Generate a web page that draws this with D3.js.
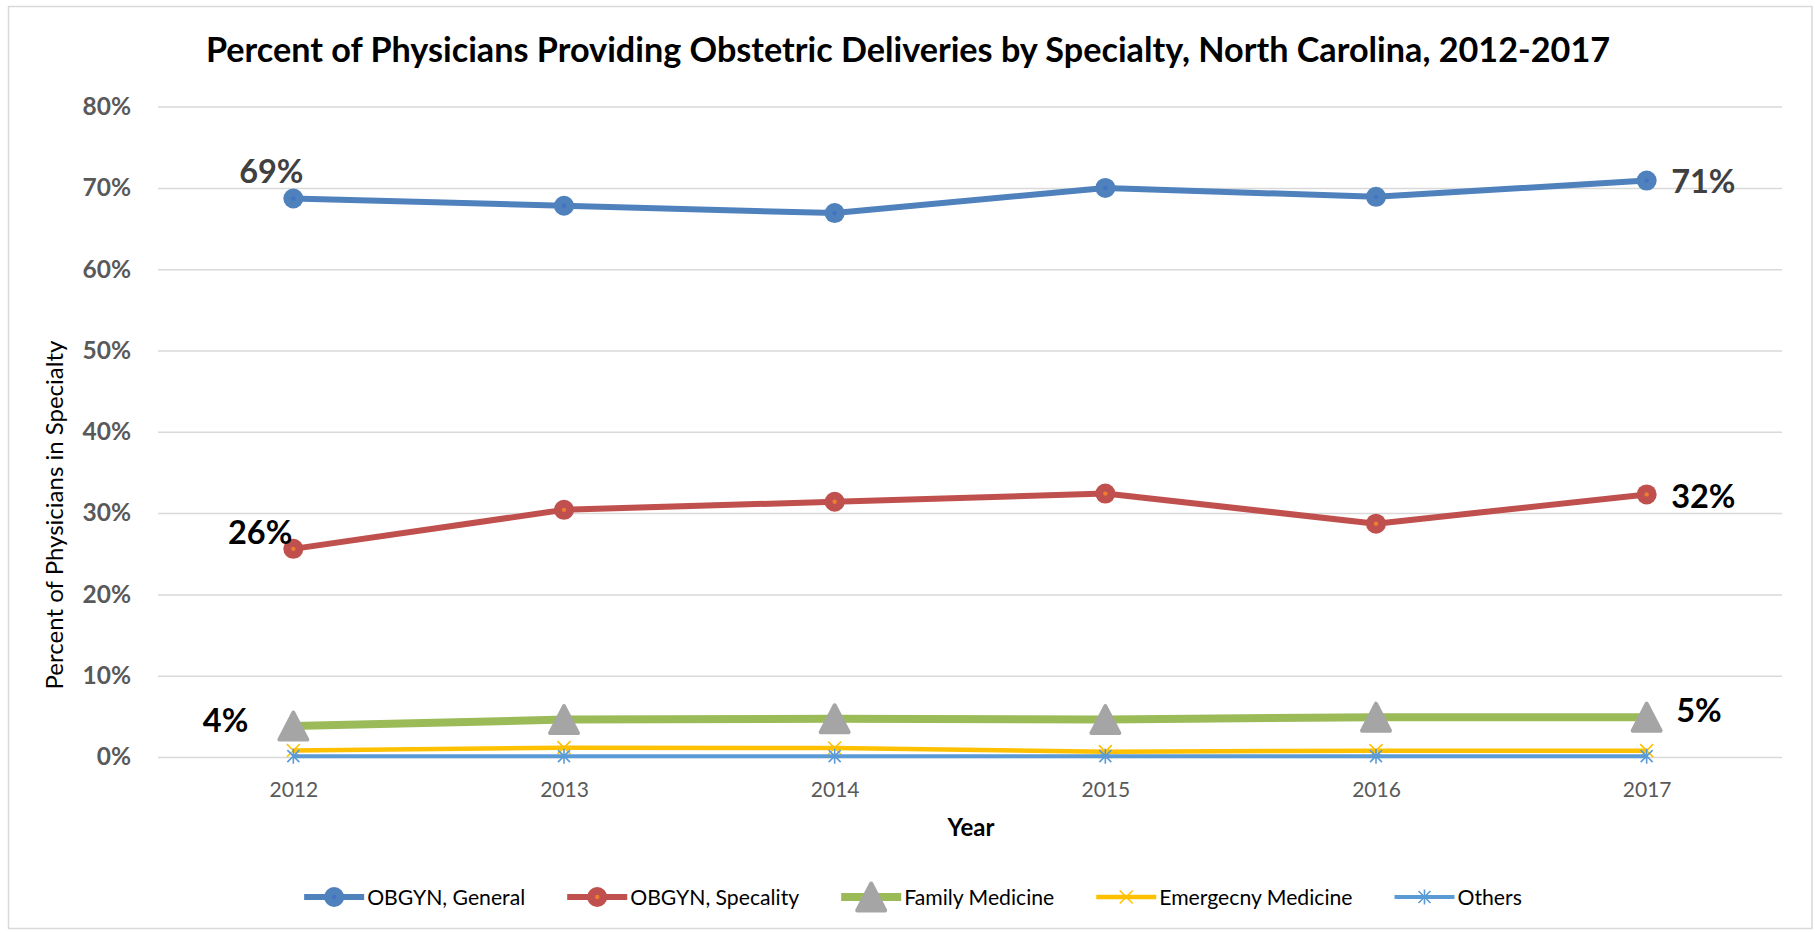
<!DOCTYPE html>
<html>
<head>
<meta charset="utf-8">
<script src="https://cdn.jsdelivr.net/npm/d3@7"></script>
<style>
  html, body { margin: 0; padding: 0; background: #ffffff; }
  svg { display: block; }
  text { font-family: Lato, "Open Sans", sans-serif; }
</style>
</head>
<body>
<svg id="chart" width="1815" height="933"></svg>
<script>
// ---- data ----
const years = ["2012", "2013", "2014", "2015", "2016", "2017"];
const seriesNames = ["OBGYN, General", "OBGYN, Specality", "Family Medicine", "Emergecny Medicine", "Others"];
const obgynGeneral   = [0.687, 0.678, 0.669, 0.700, 0.689, 0.709];
const obgynSpecialty = [0.256, 0.304, 0.314, 0.324, 0.287, 0.323];
const familyMedicine = [0.038, 0.046, 0.047, 0.046, 0.049, 0.049];
const emergencyMed   = [0.008, 0.0115, 0.011, 0.0066, 0.0078, 0.0078];
const others         = [0.001, 0.001, 0.001, 0.001, 0.001, 0.001];
const yTicks = [0, 0.1, 0.2, 0.3, 0.4, 0.5, 0.6, 0.7, 0.8];

const titleText = "Percent of Physicians Providing Obstetric Deliveries by Specialty, North Carolina, 2012-2017";
const xTitle = "Year";
const yTitle = "Percent of Physicians in Specialty";

// ---- styles per series ----
const styles = [
  { color: "#4F81BD", width: 6,   marker: "circle",   markerFill: "#4F81BD", dot: "#4472C4" },
  { color: "#C0504D", width: 6,   marker: "circle",   markerFill: "#C0504D", dot: "#ED7D31" },
  { color: "#9BBB59", width: 8,   marker: "triangle", markerFill: "#A5A5A5" },
  { color: "#FFC000", width: 4.5, marker: "x",        markerFill: "#FFC000" },
  { color: "#5B9BD5", width: 4,   marker: "star",     markerFill: "#5B9BD5" }
];
const allValues = [obgynGeneral, obgynSpecialty, familyMedicine, emergencyMed, others];

const svg = d3.select("#chart");

// outer chart frame
svg.append("rect")
  .attr("x", 8.5).attr("y", 6.5)
  .attr("width", 1803.5).attr("height", 922)
  .attr("fill", "#ffffff")
  .attr("stroke", "#D9D9D9").attr("stroke-width", 1.5);

// ---- scales ----
const x = d3.scalePoint().domain(years).range([158, 1782]).padding(0.5);
const y = d3.scaleLinear().domain([0, 0.8]).range([757, 106.6]);
const pct = d3.format(".0%");

// ---- gridlines + y axis ----
const yAxis = d3.axisLeft(y)
  .tickValues(yTicks)
  .tickFormat(pct)
  .tickSize(-(1782 - 158))
  .tickPadding(27);
const gy = svg.append("g").attr("transform", "translate(158,0)").call(yAxis);
gy.select(".domain").remove();
gy.selectAll(".tick line").attr("stroke", "#D9D9D9").attr("stroke-width", 1.5);
gy.selectAll(".tick text")
  .attr("fill", "#595959")
  .style("font-family", "Lato, sans-serif")
  .style("font-size", "24.5px")
  .style("font-weight", "bold");

// ---- x axis ----
const xAxis = d3.axisBottom(x).tickSize(0).tickPadding(0);
const gx = svg.append("g").attr("transform", "translate(0,757)").call(xAxis);
gx.select(".domain").remove();
gx.selectAll(".tick text")
  .attr("dy", null)
  .attr("y", 39.5)
  .attr("fill", "#595959")
  .style("font-family", "Lato, sans-serif")
  .style("font-size", "21px");

// ---- marker drawing ----
function drawMarker(g, kind, st, cx, cy) {
  if (kind === "circle") {
    g.append("circle").attr("cx", cx).attr("cy", cy).attr("r", 10).attr("fill", st.markerFill);
    g.append("circle").attr("cx", cx).attr("cy", cy).attr("r", 2.2).attr("fill", st.dot);
  } else if (kind === "triangle") {
    const h = 13.5, w = 14;
    g.append("path")
      .attr("d", `M${cx},${cy - h}L${cx + w},${cy + h}L${cx - w},${cy + h}Z`)
      .attr("fill", st.markerFill)
      .attr("stroke", st.markerFill)
      .attr("stroke-width", 4)
      .attr("stroke-linejoin", "round");
  } else if (kind === "x") {
    const s = 6.5;
    g.append("path")
      .attr("d", `M${cx - s},${cy - s}L${cx + s},${cy + s}M${cx - s},${cy + s}L${cx + s},${cy - s}`)
      .attr("stroke", st.markerFill).attr("stroke-width", 1.6).attr("fill", "none");
  } else if (kind === "star") {
    const s = 6;
    g.append("path")
      .attr("d", `M${cx - s},${cy - s}L${cx + s},${cy + s}M${cx - s},${cy + s}L${cx + s},${cy - s}M${cx},${cy - 7.5}L${cx},${cy + 7.5}`)
      .attr("stroke", st.markerFill).attr("stroke-width", 1.6).attr("fill", "none");
  }
}

// ---- series lines and markers ----
const line = d3.line().x((d, i) => x(years[i])).y(d => y(d));
allValues.forEach((vals, si) => {
  const st = styles[si];
  const g = svg.append("g").attr("class", "series");
  g.append("path")
    .datum(vals)
    .attr("d", line)
    .attr("fill", "none")
    .attr("stroke", st.color)
    .attr("stroke-width", st.width)
    .attr("stroke-linejoin", "round");
  vals.forEach((v, i) => drawMarker(g, st.marker, st, x(years[i]), y(v)));
});

// ---- data labels at the first and last year ----
const dataLabels = [
  { s: 0, i: 0, dx: -22,  dy: -15.5, anchor: "middle", color: "#404040" },
  { s: 0, i: 5, dx: 24.5, dy: 12.5,  anchor: "start",  color: "#404040" },
  { s: 1, i: 0, dx: -1,   dy: -4.7,  anchor: "end",    color: "#000000" },
  { s: 1, i: 5, dx: 24.5, dy: 14,    anchor: "start",  color: "#000000" },
  { s: 2, i: 0, dx: -45,  dy: 6.2,   anchor: "end",    color: "#000000" },
  { s: 2, i: 5, dx: 29.5, dy: 4.5,   anchor: "start",  color: "#000000" }
];
svg.append("g").selectAll("text")
  .data(dataLabels)
  .join("text")
  .attr("x", d => x(years[d.i]) + d.dx)
  .attr("y", d => y(allValues[d.s][d.i]) + d.dy)
  .attr("text-anchor", d => d.anchor)
  .attr("fill", d => d.color)
  .style("font-size", "32.5px")
  .style("font-weight", "bold")
  .text(d => pct(allValues[d.s][d.i]));

// ---- titles ----
svg.append("text")
  .attr("x", 908).attr("y", 62)
  .attr("text-anchor", "middle")
  .attr("fill", "#000000")
  .style("font-size", "34.2px")
  .style("font-weight", "bold")
  .text(titleText);

svg.append("text")
  .attr("x", 971).attr("y", 836)
  .attr("text-anchor", "middle")
  .attr("fill", "#000000")
  .style("font-size", "24px")
  .style("font-weight", "bold")
  .text(xTitle);

svg.append("text")
  .attr("transform", "translate(63,515) rotate(-90)")
  .attr("text-anchor", "middle")
  .attr("fill", "#000000")
  .style("font-size", "24px")
  .text(yTitle);

// ---- legend ----
const legend = svg.append("g").attr("class", "legend");
const legendY = 897;
let cursor = 0;
seriesNames.forEach((name, si) => {
  const st = styles[si];
  const g = legend.append("g");
  g.append("line")
    .attr("x1", cursor).attr("x2", cursor + 60)
    .attr("y1", legendY).attr("y2", legendY)
    .attr("stroke", st.color).attr("stroke-width", st.width);
  drawMarker(g, st.marker, st, cursor + 30, legendY);
  const t = g.append("text")
    .attr("x", cursor + 63).attr("y", legendY + 7.5)
    .attr("fill", "#000000")
    .style("font-size", "21.2px")
    .text(name);
  cursor += 63 + t.node().getComputedTextLength() + 42;
});
const legendWidth = cursor - 42;
legend.attr("transform", `translate(${913 - legendWidth / 2},0)`);
</script>
</body>
</html>
